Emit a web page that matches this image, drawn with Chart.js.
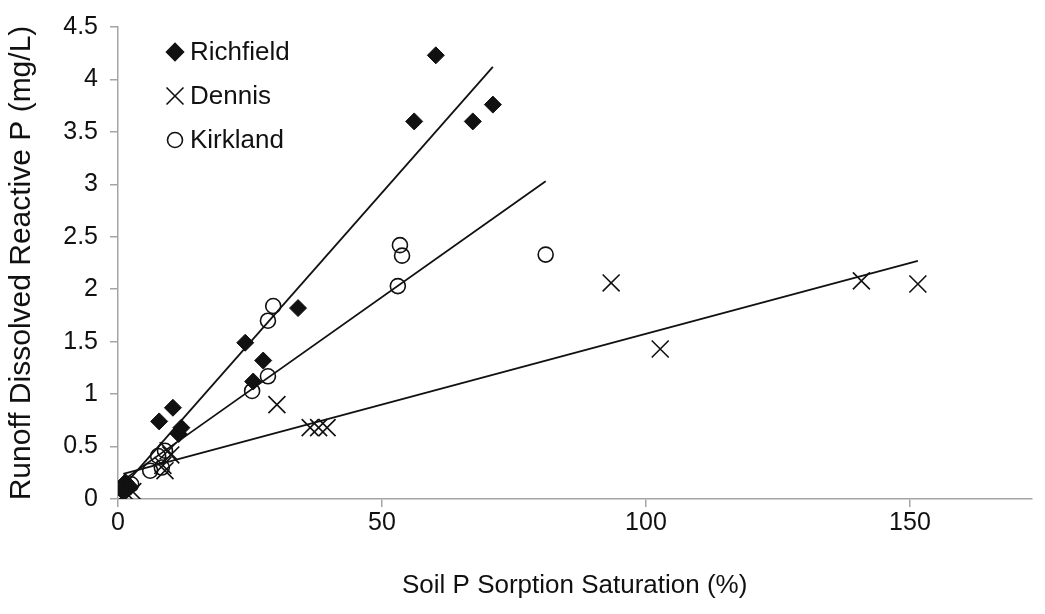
<!DOCTYPE html>
<html>
<head>
<meta charset="utf-8">
<script src="https://cdn.jsdelivr.net/npm/chart.js@4.4.1/dist/chart.umd.min.js"></script>
<style>
    html, body { margin: 0; padding: 0; background: #fff; }
    #wrap { width: 1045px; height: 614px; position: relative; }
</style>
</head>
<body>
<div id="wrap"><canvas id="sorption"></canvas></div>
<script>
// Richfield (filled diamonds)
const richfieldX = [1.0, 1.4, 2.2, 7.8, 10.4, 11.5, 12.0, 24.1, 25.6, 27.5, 34.1, 56.1, 60.2, 67.2, 71.0];
const richfieldY = [0.07, 0.16, 0.12, 0.74, 0.87, 0.62, 0.68, 1.49, 1.12, 1.32, 1.82, 3.60, 4.23, 3.60, 3.76];

// Dennis (crosses)
const dennisX = [1.5, 2.8, 8.5, 8.9, 9.5, 10.0, 30.1, 36.4, 38.0, 39.6, 93.4, 102.7, 140.8, 151.5];
const dennisY = [0.06, 0.07, 0.32, 0.27, 0.46, 0.42, 0.90, 0.68, 0.68, 0.68, 2.06, 1.43, 2.08, 2.05];

// Kirkland (open circles)
const kirklandX = [1.5, 2.5, 6.1, 7.6, 8.3, 8.9, 25.4, 28.4, 28.4, 29.4, 53.0, 53.4, 53.8, 81.0];
const kirklandY = [0.10, 0.14, 0.27, 0.41, 0.30, 0.46, 1.03, 1.17, 1.70, 1.84, 2.03, 2.42, 2.32, 2.33];

// fitted lines, end points
const richfieldLineX = [1, 71];
const richfieldLineY = [0.12, 4.12];
const dennisLineX = [1, 151.5];
const dennisLineY = [0.24, 2.27];
const kirklandLineX = [1, 81];
const kirklandLineY = [0.18, 3.03];

const xTicks = [0, 50, 100, 150];
const yTicks = [0, 0.5, 1, 1.5, 2, 2.5, 3, 3.5, 4, 4.5];

const legendItems = [
    { label: "Richfield", style: "rectRot", radius: 8.5, fill: "#111" },
    { label: "Dennis", style: "crossRot", radius: 12, fill: "#111" },
    { label: "Kirkland", style: "circle", radius: 7.5, fill: "#fff" }
];

const pts = (xs, ys) => xs.map((x, i) => ({ x: x, y: ys[i] }));

const FONT = "'Liberation Sans', Arial, sans-serif";
const AXIS_GREY = "#a5a5a5";

/* legend drawn inside the plot, top left */
const insideLegend = {
    id: "insideLegend",
    afterDatasetsDraw(chart) {
        const ctx = chart.ctx;
        ctx.save();
        legendItems.forEach((item, i) => {
            const cx = 175;
            const cy = 52 + i * 44;
            ctx.fillStyle = item.fill;
            ctx.strokeStyle = "#111";
            ctx.lineWidth = 1.6;
            Chart.helpers.drawPoint(ctx, {
                pointStyle: item.style,
                radius: item.radius,
                borderWidth: 1.6,
                rotation: 0
            }, cx, cy);
            ctx.fillStyle = "#111";
            ctx.font = "26px " + FONT;
            ctx.textBaseline = "middle";
            ctx.textAlign = "left";
            ctx.fillText(item.label, 190, cy + 1);
        });
        ctx.restore();
    }
};

const lineSet = (xs, ys) => ({
    type: "line",
    data: pts(xs, ys),
    borderColor: "#111",
    borderWidth: 1.8,
    pointRadius: 0,
    fill: false,
    showLine: true
});

new Chart(document.getElementById("sorption"), {
    type: "scatter",
    data: {
        datasets: [
            lineSet(richfieldLineX, richfieldLineY),
            lineSet(kirklandLineX, kirklandLineY),
            lineSet(dennisLineX, dennisLineY),
            {
                label: "Richfield",
                data: pts(richfieldX, richfieldY),
                pointStyle: "rectRot",
                pointRadius: 8.5,
                backgroundColor: "#111",
                borderColor: "#111",
                borderWidth: 1
            },
            {
                label: "Dennis",
                data: pts(dennisX, dennisY),
                pointStyle: "crossRot",
                pointRadius: 12,
                borderColor: "#111",
                borderWidth: 1.6
            },
            {
                label: "Kirkland",
                data: pts(kirklandX, kirklandY),
                pointStyle: "circle",
                pointRadius: 7.5,
                backgroundColor: "rgba(255,255,255,0)",
                borderColor: "#111",
                borderWidth: 1.6
            }
        ]
    },
    options: {
        responsive: true,
        maintainAspectRatio: false,
        animation: false,
        layout: { padding: { top: 19, right: 3, left: 0, bottom: 0 } },
        plugins: {
            legend: { display: false },
            tooltip: { enabled: false }
        },
        scales: {
            x: {
                type: "linear",
                min: 0,
                max: 173,
                afterBuildTicks: s => { s.ticks = xTicks.map(v => ({ value: v })); },
                afterFit: s => { s.height = 115; },
                border: { color: AXIS_GREY, width: 1.5 },
                grid: { drawOnChartArea: false, tickLength: 8, color: AXIS_GREY, lineWidth: 1.5 },
                ticks: {
                    color: "#111", font: { family: FONT, size: 25 }, padding: 1, maxRotation: 0,
                    includeBounds: false, callback: v => String(v)
                },
                title: {
                    display: true,
                    text: "Soil P Sorption Saturation (%)",
                    color: "#111",
                    font: { family: FONT, size: 26 },
                    padding: { top: 0, bottom: 13 }
                }
            },
            y: {
                type: "linear",
                min: 0,
                max: 4.5,
                afterBuildTicks: s => { s.ticks = yTicks.map(v => ({ value: v })); },
                afterFit: s => { s.width = 118; },
                border: { color: AXIS_GREY, width: 1.5 },
                grid: { drawOnChartArea: false, tickLength: 8, color: AXIS_GREY, lineWidth: 1.5 },
                ticks: {
                    color: "#111", font: { family: FONT, size: 25 }, padding: 12,
                    callback: v => String(v)
                },
                title: {
                    display: true,
                    text: "Runoff Dissolved Reactive P (mg/L)",
                    color: "#111",
                    font: { family: FONT, size: 30 },
                    padding: { top: 4, bottom: 4 }
                }
            }
        }
    },
    plugins: [insideLegend]
});
</script>
</body>
</html>
